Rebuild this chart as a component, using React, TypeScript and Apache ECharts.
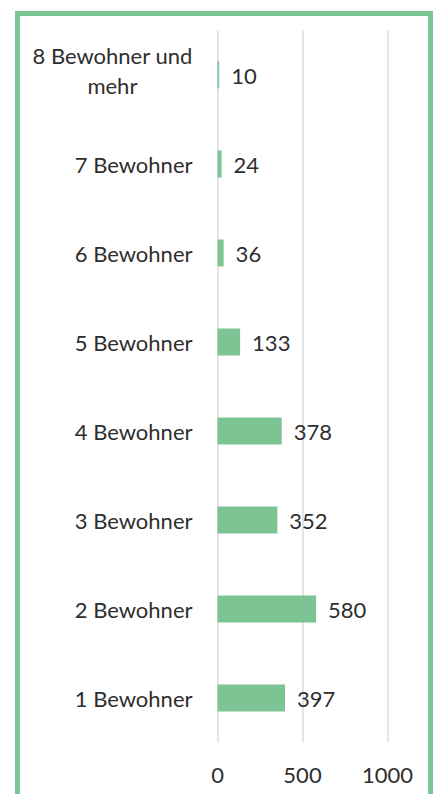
import React, { useEffect, useRef } from "react";
import * as echarts from "echarts";

const categories = [
  "1 Bewohner",
  "2 Bewohner",
  "3 Bewohner",
  "4 Bewohner",
  "5 Bewohner",
  "6 Bewohner",
  "7 Bewohner",
  "8 Bewohner und\nmehr",
];
const values = [397, 580, 352, 378, 133, 36, 24, 10];
const xTicks = { min: 0, max: 1000, interval: 500 };

const FONT = "Lato, 'Noto Sans', sans-serif";
const GREEN = "#7cc493";
const TEXT = "#2e2e2e";
const FS = 22;

export default function App() {
  const ref = useRef<HTMLDivElement>(null);
  useEffect(() => {
    if (!ref.current) return;
    const chart = echarts.init(ref.current, undefined, { renderer: "svg" });
    chart.setOption({
      animation: false,
      backgroundColor: "#ffffff",
      textStyle: { fontFamily: FONT },
      grid: { left: 217.5, right: 45.5, top: 30.5, bottom: 51.5, containLabel: false },
      xAxis: {
        type: "value",
        min: xTicks.min,
        max: xTicks.max,
        interval: xTicks.interval,
        axisLine: { show: false },
        axisTick: { show: false },
        splitLine: { show: true, lineStyle: { color: "#e4e4e4", width: 2 } },
        axisLabel: {
          fontSize: FS,
          color: TEXT,
          fontFamily: FONT,
          margin: 21,
          formatter: (v: number) => String(v),
        },
      },
      yAxis: {
        type: "category",
        data: categories,
        axisLine: { show: false },
        axisTick: { show: false },
        axisLabel: {
          margin: 25,
          fontSize: FS,
          color: TEXT,
          fontFamily: FONT,
          formatter: (v: string) => {
            const lines = v.split("\n");
            const body = lines.map((l) => "{c|" + l + "}").join("\n");
            return lines.length > 1 ? body + "\n{s| }" : body;
          },
          rich: {
            c: { align: "center", fontSize: FS, color: TEXT, fontFamily: FONT, lineHeight: 30 },
            s: { fontSize: 1, lineHeight: 9 },
          },
        },
      },
      series: [
        {
          type: "bar",
          data: values,
          barWidth: 27,
          itemStyle: { color: GREEN },
          label: {
            show: true,
            position: "right",
            distance: 12,
            fontSize: FS,
            color: TEXT,
            fontFamily: FONT,
          },
        },
      ],
      graphic: [
        {
          type: "rect",
          shape: { x: 17.5, y: 13.5, width: 413, height: 800 },
          style: { fill: "none", stroke: GREEN, lineWidth: 5 },
          silent: true,
          z: 100,
        },
      ],
    });
    return () => chart.dispose();
  }, []);
  return (
    <div
      ref={ref}
      style={{ position: "absolute", left: 0, top: 0, width: 433, height: 794 }}
    />
  );
}
